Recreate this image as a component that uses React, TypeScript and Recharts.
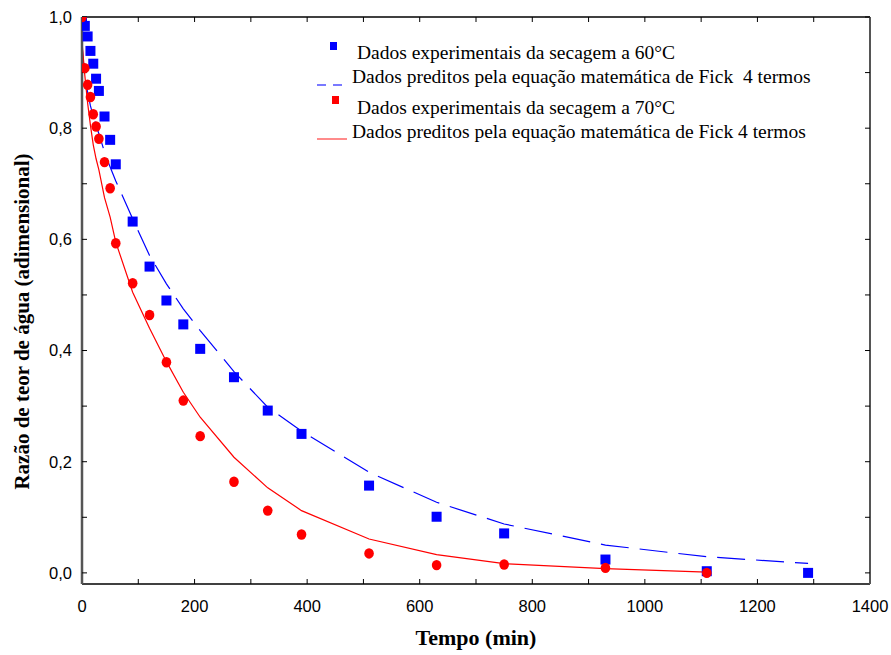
import { ComposedChart, Line, Scatter, XAxis, YAxis, Label } from 'recharts';

// tempo (min) e razão de teor de água
const tempo60 = [0, 5, 10, 15, 20, 25, 30, 40, 50, 60, 90, 120, 150, 180, 210, 270, 330, 390, 510, 630, 750, 930, 1110, 1290];
const exp60 = [1.0, 0.984, 0.965, 0.939, 0.916, 0.889, 0.867, 0.821, 0.779, 0.735, 0.632, 0.551, 0.49, 0.447, 0.403, 0.352, 0.292, 0.25, 0.157, 0.101, 0.071, 0.024, 0.003, 0.0];
const fick60 = [0.95, 0.89, 0.865, 0.84, 0.822, 0.805, 0.79, 0.757, 0.73, 0.705, 0.637, 0.571, 0.52, 0.475, 0.436, 0.362, 0.298, 0.255, 0.181, 0.127, 0.088, 0.05, 0.029, 0.017];

const tempo70 = [0, 5, 10, 15, 20, 25, 30, 40, 50, 60, 90, 120, 150, 180, 210, 270, 330, 390, 510, 630, 750, 930, 1110];
const exp70 = [1.0, 0.908, 0.878, 0.856, 0.825, 0.803, 0.781, 0.739, 0.692, 0.593, 0.521, 0.464, 0.379, 0.31, 0.246, 0.164, 0.112, 0.069, 0.035, 0.014, 0.015, 0.009, 0.0];
const fick70 = [0.955, 0.895, 0.845, 0.805, 0.77, 0.745, 0.725, 0.675, 0.64, 0.595, 0.505, 0.44, 0.38, 0.325, 0.28, 0.208, 0.153, 0.112, 0.061, 0.033, 0.0165, 0.0075, 0.0015];

const xTicks = [0, 100, 200, 300, 400, 500, 600, 700, 800, 900, 1000, 1100, 1200, 1300, 1400];
const yTicks = [0, 0.1, 0.2, 0.3, 0.4, 0.5, 0.6, 0.7, 0.8, 0.9, 1.0];

const legendLabels = [
  'Dados experimentais da secagem a 60°C',
  'Dados preditos pela equação matemática de Fick  4 termos',
  'Dados experimentais da secagem a 70°C',
  'Dados preditos pela equação matemática de Fick 4 termos',
];

const toPoints = (ts: number[], vs: number[]) => ts.map((t, i) => ({ t, v: vs[i] }));

const serif = '"Liberation Serif", "Times New Roman", serif';
const sans = '"Liberation Sans", Arial, sans-serif';

const BlueSquare = (p: any) => <rect x={p.cx - 5} y={p.cy - 5} width={10} height={10} fill="#0000ff" />;
const RedDot = (p: any) => <ellipse cx={p.cx} cy={p.cy} rx={4.8} ry={5.2} fill="#ff0000" />;

const fmtX = (v: number) => (v % 200 === 0 ? String(v) : '');
const fmtY = (v: number) => (Math.round(v * 10) % 2 === 0 ? v.toFixed(1).replace('.', ',') : '');

function LegendBox() {
  const rows = [
    { x: 357, y: 59 },
    { x: 352, y: 83 },
    { x: 357, y: 114 },
    { x: 352, y: 138 },
  ];
  return (
    <svg width={891} height={160} style={{ position: 'absolute', left: 0, top: 0, pointerEvents: 'none' }}>
      <rect x={330} y={42} width={7} height={8} fill="#0000ff" />
      <line x1={317} y1={85} x2={342} y2={85} stroke="#4d4dff" strokeWidth={1.3} strokeDasharray="9 7" />
      <rect x={332} y={96} width={7} height={8} fill="#ff0000" />
      <line x1={317} y1={139} x2={347} y2={139} stroke="#ff4d4d" strokeWidth={1.3} />
      {rows.map((r, i) => (
        <text key={i} x={r.x} y={r.y} fontFamily={serif} fontSize={19.5} fill="#000" style={{ whiteSpace: 'pre' }}>
          {legendLabels[i]}
        </text>
      ))}
    </svg>
  );
}

export default function App() {
  return (
    <div style={{ position: 'absolute', left: 0, top: 0, width: 891, height: 655, background: '#fff' }}>
      <ComposedChart width={891} height={655} margin={{ top: 16, right: 20, left: 0, bottom: 0 }}>
        <XAxis
          xAxisId="b"
          dataKey="t"
          type="number"
          domain={[0, 1400]}
          ticks={xTicks}
          allowDataOverflow
          tickFormatter={fmtX}
          interval={0}
          height={71}
          tickSize={-5}
          tickMargin={21}
          axisLine={{ stroke: '#000', strokeWidth: 1.5 }}
          tickLine={{ stroke: '#000', strokeWidth: 1 }}
          tick={{ fill: '#000', fontSize: 16.5, fontFamily: sans }}
        >
          <Label value="Tempo (min)" position="insideBottom" offset={10} fill="#000" fontFamily={serif} fontSize={22} fontWeight="bold" />
        </XAxis>
        <XAxis
          xAxisId="top"
          orientation="top"
          type="number"
          dataKey="t"
          domain={[0, 1400]}
          ticks={xTicks}
          allowDataOverflow
          tickFormatter={() => ''}
          interval={0}
          height={1}
          tickSize={-5}
          axisLine={{ stroke: '#000', strokeWidth: 1.5 }}
          tickLine={{ stroke: '#000', strokeWidth: 1 }}
        />
        <YAxis
          yAxisId="l"
          dataKey="v"
          type="number"
          domain={[-0.02, 1.0]}
          ticks={yTicks}
          allowDataOverflow
          tickFormatter={fmtY}
          interval={0}
          width={82}
          tickSize={-5}
          tickMargin={15}
          axisLine={{ stroke: '#555', strokeWidth: 2.5 }}
          tickLine={{ stroke: '#000', strokeWidth: 1 }}
          tick={{ fill: '#000', fontSize: 16.5, fontFamily: sans }}
        >
          <Label
            content={(props: any) => {
              const vb = props.viewBox;
              const cx = 22;
              const cy = vb.y + vb.height / 2 + 21;
              return (
                <text
                  x={cx}
                  y={cy}
                  transform={`rotate(-90 ${cx} ${cy})`}
                  textAnchor="middle"
                  dominantBaseline="central"
                  fontFamily={serif}
                  fontSize={21}
                  fontWeight="bold"
                  fill="#000"
                >
                  Razão de teor de água (adimensional)
                </text>
              );
            }}
          />
        </YAxis>
        <YAxis
          yAxisId="r"
          orientation="right"
          type="number"
          dataKey="v"
          domain={[-0.02, 1.0]}
          ticks={yTicks}
          allowDataOverflow
          tickFormatter={() => ''}
          interval={0}
          width={1}
          tickSize={-5}
          axisLine={{ stroke: '#555', strokeWidth: 2 }}
          tickLine={{ stroke: '#000', strokeWidth: 1 }}
        />
        {/* invisible series so the top and right frame axes are drawn */}
        <Line
          xAxisId="top"
          yAxisId="r"
          data={toPoints(tempo60, fick60)}
          dataKey="v"
          stroke="none"
          dot={false}
          activeDot={false}
          isAnimationActive={false}
        />
        <Line
          xAxisId="b"
          yAxisId="l"
          data={toPoints(tempo60, fick60)}
          dataKey="v"
          type="linear"
          stroke="#0000ff"
          strokeWidth={1.2}
          strokeDasharray="28 11"
          dot={false}
          activeDot={false}
          isAnimationActive={false}
        />
        <Line
          xAxisId="b"
          yAxisId="l"
          data={toPoints(tempo70, fick70)}
          dataKey="v"
          type="linear"
          stroke="#ff0000"
          strokeWidth={1.2}
          dot={false}
          activeDot={false}
          isAnimationActive={false}
        />
        <Scatter xAxisId="b" yAxisId="l" data={toPoints(tempo60, exp60)} dataKey="v" shape={BlueSquare} isAnimationActive={false} />
        <Scatter xAxisId="b" yAxisId="l" data={toPoints(tempo70, exp70)} dataKey="v" shape={RedDot} isAnimationActive={false} />
      </ComposedChart>
      <LegendBox />
    </div>
  );
}
